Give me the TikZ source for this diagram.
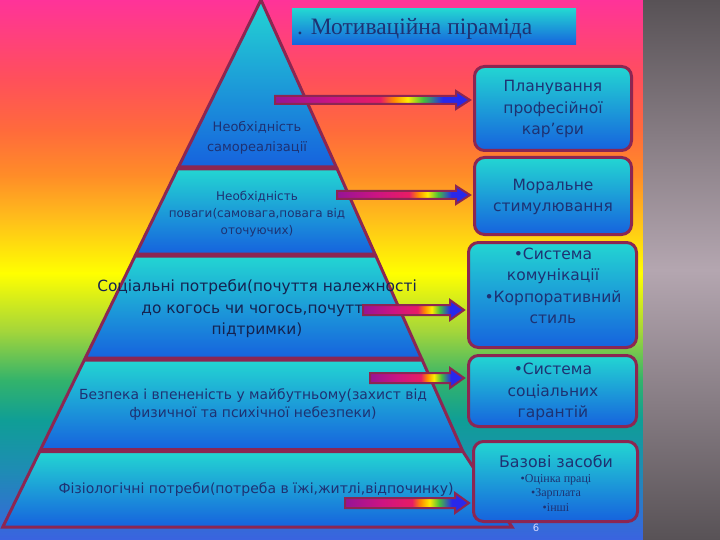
\documentclass[tikz,border=0pt]{standalone}
\usepackage{fontspec}
\setmainfont{DejaVu Sans}
\newfontfamily\serifont{Liberation Serif}
\usetikzlibrary{calc}

\definecolor{rim}{RGB}{140,38,82}
\definecolor{ink}{RGB}{30,50,115}
\definecolor{topcyan}{RGB}{35,214,210}
\definecolor{lowblue}{RGB}{22,98,222}
\definecolor{greyA}{RGB}{88,82,86}
\definecolor{greyB}{RGB}{180,166,176}
%% background colours
\definecolor{bgA}{RGB}{255,51,153}
\definecolor{bgB}{RGB}{255,80,90}
\definecolor{bgC}{RGB}{255,106,60}
\definecolor{bgD}{RGB}{255,140,40}
\definecolor{bgE}{RGB}{255,192,26}
\definecolor{bgF}{RGB}{255,255,0}
\definecolor{bgG}{RGB}{165,214,58}
\definecolor{bgH}{RGB}{51,179,107}
\definecolor{bgI}{RGB}{15,158,150}
\definecolor{bgJ}{RGB}{30,140,180}
\definecolor{bgK}{RGB}{58,99,224}
%% arrow colours
\definecolor{arA}{RGB}{150,20,150}
\definecolor{arB}{RGB}{205,20,130}
\definecolor{arC}{RGB}{232,28,100}
\definecolor{arD}{RGB}{255,140,0}
\definecolor{arE}{RGB}{255,235,0}
\definecolor{arF}{RGB}{70,190,60}
\definecolor{arG}{RGB}{40,40,235}

\pgfdeclareverticalshading{bgshade}{100bp}{color(0bp)=(bgK); color(25bp)=(bgK); color(31.5bp)=(bgJ); color(36.1bp)=(bgI); color(39.8bp)=(bgH); color(44.4bp)=(bgG); color(49.7bp)=(bgF); color(54.6bp)=(bgE); color(58.8bp)=(bgD); color(63bp)=(bgC); color(67.6bp)=(bgB); color(75bp)=(bgA); color(100bp)=(bgA)}
\pgfdeclarehorizontalshading{rainbowarrow}{100bp}{color(0bp)=(arA); color(25bp)=(arA); color(40bp)=(arB); color(52bp)=(arC); color(55.5bp)=(arD); color(59bp)=(arE); color(63bp)=(arF); color(68bp)=(arG); color(100bp)=(arG)}

\begin{document}
\begin{tikzpicture}[x=1pt,y=-1pt]
	\tikzstyle{layer}=[top color=topcyan,bottom color=lowblue,draw=rim,line width=3pt];
	\tikzstyle{goal}=[rectangle,rounded corners=10pt,draw=rim,line width=3pt,top color=topcyan,bottom color=lowblue,inner sep=0pt];
	\tikzstyle{need}=[inner sep=0pt,align=center,text=ink];
	\tikzstyle{goaltext}=[inner sep=0pt,align=center,text=ink,font=\fontsize{15.5}{21.5}\selectfont];
	\tikzstyle{rainbow}=[shading=rainbowarrow,draw=rim,line width=2pt];
	\useasboundingbox (0,0) rectangle (720,540);
	%% background
	\shade[shading=bgshade] (0,0) rectangle (643,540);
	\shade[top color=greyA,bottom color=greyA,middle color=greyB] (643,0) rectangle (720,540);
	%% pyramid
	\shadedraw[layer] (261,0) -- (336.3,167) -- (178.5,167) -- cycle;
	\shadedraw[layer] (177.5,169) -- (337.2,169) -- (375,254) -- (136,254) -- cycle;
	\shadedraw[layer] (135.1,256) -- (375.9,256) -- (421.3,358) -- (85.3,358) -- cycle;
	\shadedraw[layer] (84.3,360) -- (422.2,360) -- (462,449.5) -- (40.6,449.5) -- cycle;
	\shadedraw[layer] (39.7,451.5) -- (462.9,451.5) -- (512,527) -- (2.8,527) -- cycle;
	%% needs
	\node[need,font=\fontsize{13}{20}\selectfont] (self) at (257,138) {Необхідність\\самореалізації};
	\node[need,font=\fontsize{12}{17}\selectfont] (respect) at (257,214) {Необхідність\\поваги(самовага,повага від\\оточуючих)};
	\node[need,font=\fontsize{15.4}{21.5}\selectfont,text=ink!70!black] (belong) at (257,309) {Соціальні потреби(почуття належності\\до когось чи чогось,почуття\\підтримки)};
	\node[need,font=\fontsize{13.9}{18}\selectfont] (safety) at (253,405) {Безпека і впененість у майбутньому(захист від\\физичної та психічної небезпеки)};
	\node[need,font=\fontsize{14}{18}\selectfont] (body) at (256,490) {Фізіологічні потреби(потреба в їжі,житлі,відпочинку)};
	%% title
	\node[rectangle,top color=topcyan,bottom color=lowblue,minimum width=284pt,minimum height=36pt,inner sep=0pt] (titlebox) at (434,27) {};
	\node[anchor=west,inner sep=0pt,text=ink,font=\serifont\fontsize{23.5}{23.5}\selectfont] (title) at (297,29) {. Мотиваційна піраміда};
	%% means
	\node[goal,minimum width=157pt,minimum height=84pt] (plan) at (553,108.5) {};
	\node[goal,minimum width=157pt,minimum height=77pt] (moral) at (553,196) {};
	\node[goal,minimum width=168pt,minimum height=105pt] (comm) at (552.5,295) {};
	\node[goal,minimum width=168pt,minimum height=71pt] (guar) at (552.5,391) {};
	\node[goal,minimum width=164pt,minimum height=80pt] (basic) at (555.5,481.5) {};
	%% texts
	\node[goaltext] (plantext) at (553,109) {Планування\\професійної\\кар'єри};
	\node[goaltext] (moraltext) at (553,197) {Моральне\\стимулювання};
	\node[goaltext] (commtext) at (553,286) {•Система\\комунікації\\•Корпоративний\\стиль};
	\node[goaltext] (guartext) at (553,392) {•Система\\соціальних\\гарантій};
	\node[goaltext,font=\fontsize{15.8}{18}\selectfont] (basictext) at (556,461) {Базові засоби};
	\node[need,font=\serifont\fontsize{12}{14.5}\selectfont] (basiclist) at (556,493) {•Оцінка праці\\•Зарплата\\•інші};
	\node[inner sep=0pt,text=white!85!blue,font=\fontsize{10}{10}\selectfont] (page) at (536,528) {6};
	%% arrows
	\coordinate (s1) at (275,100);
	\coordinate (s2) at (337,195);
	\coordinate (s3) at (363,310);
	\coordinate (s4) at (370,378);
	\coordinate (s5) at (345,503);
	\shadedraw[rainbow] let \p1=(s1),\p2=(plan.west) in (\x1,\y1+4) -- (\x2-17,\y1+4) -- (\x2-17,\y1+9) -- (\x2-3,\y1) -- (\x2-17,\y1-9) -- (\x2-17,\y1-4) -- (\x1,\y1-4) -- cycle;
	\shadedraw[rainbow] let \p1=(s2),\p2=(moral.west) in (\x1,\y1+4) -- (\x2-17,\y1+4) -- (\x2-17,\y1+9) -- (\x2-3,\y1) -- (\x2-17,\y1-9) -- (\x2-17,\y1-4) -- (\x1,\y1-4) -- cycle;
	\shadedraw[rainbow] let \p1=(s3),\p2=(comm.west) in (\x1,\y1+5) -- (\x2-17,\y1+5) -- (\x2-17,\y1+10) -- (\x2-3,\y1) -- (\x2-17,\y1-10) -- (\x2-17,\y1-5) -- (\x1,\y1-5) -- cycle;
	\shadedraw[rainbow] let \p1=(s4),\p2=(guar.west) in (\x1,\y1+5) -- (\x2-17,\y1+5) -- (\x2-17,\y1+10) -- (\x2-3,\y1) -- (\x2-17,\y1-10) -- (\x2-17,\y1-5) -- (\x1,\y1-5) -- cycle;
	\shadedraw[rainbow] let \p1=(s5),\p2=(basic.west) in (\x1,\y1+5) -- (\x2-17,\y1+5) -- (\x2-17,\y1+10) -- (\x2-3,\y1) -- (\x2-17,\y1-10) -- (\x2-17,\y1-5) -- (\x1,\y1-5) -- cycle;
\end{tikzpicture}
\end{document}
